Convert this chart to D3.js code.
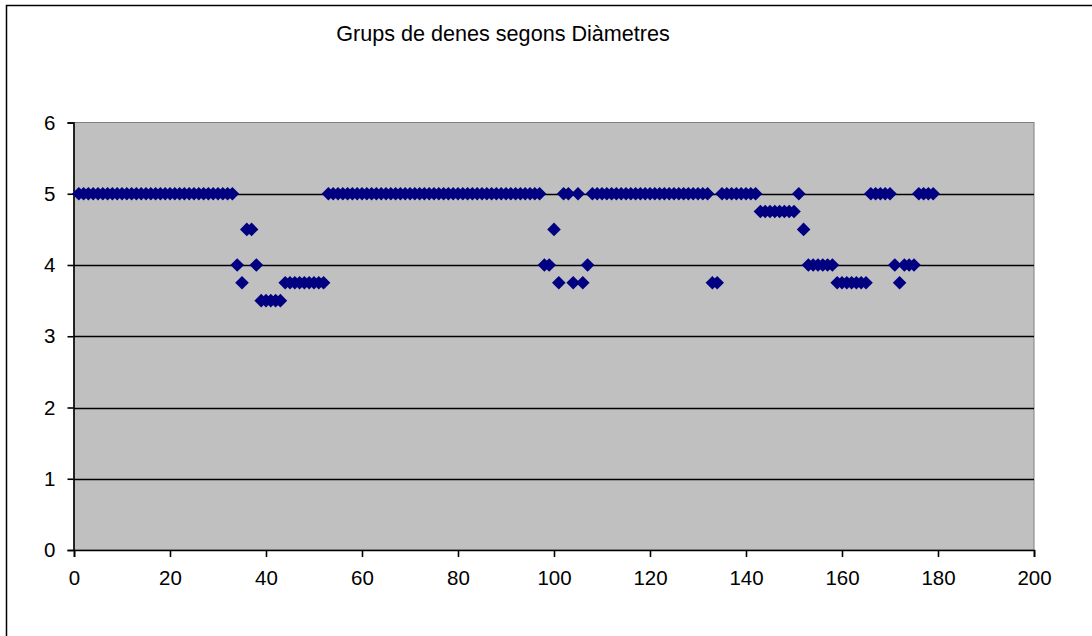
<!DOCTYPE html>
<html>
<head>
<meta charset="utf-8">
<script src="https://cdn.jsdelivr.net/npm/d3@7"></script>
<style>
  body { margin: 0; background: #fff; }
  svg text { font-family: Arial, "Liberation Sans", sans-serif; fill: #000; }
</style>
</head>
<body>
<svg id="chart" width="1092" height="636"></svg>
<script>
// chart data: one diameter group per sample (samples numbered from 1)
const chartTitle = 'Grups de denes segons Diàmetres';
const diameters = [
  5, 5, 5, 5, 5, 5, 5, 5, 5, 5,
  5, 5, 5, 5, 5, 5, 5, 5, 5, 5,
  5, 5, 5, 5, 5, 5, 5, 5, 5, 5,
  5, 5, 5, 4, 3.75, 4.5, 4.5, 4, 3.5, 3.5,
  3.5, 3.5, 3.5, 3.75, 3.75, 3.75, 3.75, 3.75, 3.75, 3.75,
  3.75, 3.75, 5, 5, 5, 5, 5, 5, 5, 5,
  5, 5, 5, 5, 5, 5, 5, 5, 5, 5,
  5, 5, 5, 5, 5, 5, 5, 5, 5, 5,
  5, 5, 5, 5, 5, 5, 5, 5, 5, 5,
  5, 5, 5, 5, 5, 5, 5, 4, 4, 4.5,
  3.75, 5, 5, 3.75, 5, 3.75, 4, 5, 5, 5,
  5, 5, 5, 5, 5, 5, 5, 5, 5, 5,
  5, 5, 5, 5, 5, 5, 5, 5, 5, 5,
  5, 5, 3.75, 3.75, 5, 5, 5, 5, 5, 5,
  5, 5, 4.75, 4.75, 4.75, 4.75, 4.75, 4.75, 4.75, 4.75,
  5, 4.5, 4, 4, 4, 4, 4, 4, 3.75, 3.75,
  3.75, 3.75, 3.75, 3.75, 3.75, 5, 5, 5, 5, 5,
  4, 3.75, 4, 4, 4, 5, 5, 5, 5
];
const xTicks = [0, 20, 40, 60, 80, 100, 120, 140, 160, 180, 200];
const yTicks = [0, 1, 2, 3, 4, 5, 6];

const svg = d3.select('#chart');
const plot = { left: 74, top: 122.5, right: 1034, bottom: 550 };

const x = d3.scaleLinear().domain([0, 200]).range([plot.left, plot.right]);
const y = d3.scaleLinear().domain([0, 6]).range([plot.bottom, plot.top]);

// outer chart frame (right and bottom edges fall outside the picture)
svg.append('rect')
  .attr('x', 6.5).attr('y', 5.5)
  .attr('width', 1100).attr('height', 640)
  .attr('fill', '#fff')
  .attr('stroke', '#000')
  .attr('stroke-width', 1.5);

svg.append('text')
  .attr('x', 503).attr('y', 41)
  .attr('text-anchor', 'middle')
  .style('font-size', '21.6px')
  .text(chartTitle);

// plot area
svg.append('rect')
  .attr('x', plot.left).attr('y', plot.top)
  .attr('width', plot.right - plot.left).attr('height', plot.bottom - plot.top)
  .attr('fill', '#c0c0c0')
  .attr('stroke', '#808080')
  .attr('stroke-width', 1);

// gridlines
svg.append('g')
  .selectAll('line')
  .data(yTicks.filter(d => d > 0 && d < 6))
  .enter()
  .append('line')
  .attr('x1', plot.left).attr('x2', plot.right)
  .attr('y1', d => Math.round(y(d)) + 0.5).attr('y2', d => Math.round(y(d)) + 0.5)
  .attr('stroke', '#000')
  .attr('stroke-width', 1.4);

// axes
const xAxis = svg.append('g')
  .attr('transform', `translate(0,${plot.bottom})`)
  .call(d3.axisBottom(x).tickValues(xTicks).tickSize(7).tickPadding(13).tickFormat(d3.format('d')));
const yAxis = svg.append('g')
  .attr('transform', `translate(${plot.left - 0.5},0)`)
  .call(d3.axisLeft(y).tickValues(yTicks).tickSize(6).tickPadding(12).tickFormat(d3.format('d')));

[xAxis, yAxis].forEach(g => {
  g.select('.domain').attr('stroke', '#000').attr('stroke-width', 1.6);
  g.selectAll('.tick line').attr('stroke', '#000').attr('stroke-width', 1.6);
  g.selectAll('.tick text').style('font-size', '20.5px').attr('font-family', 'Arial, "Liberation Sans", sans-serif');
});

// markers
const diamond = 'M0,-6.8L6.8,0L0,6.8L-6.8,0Z';
svg.append('g')
  .selectAll('path')
  .data(diameters)
  .enter()
  .append('path')
  .attr('d', diamond)
  .attr('transform', (d, i) => `translate(${x(i + 1)},${y(d)})`)
  .attr('fill', '#000080');
</script>
</body>
</html>
